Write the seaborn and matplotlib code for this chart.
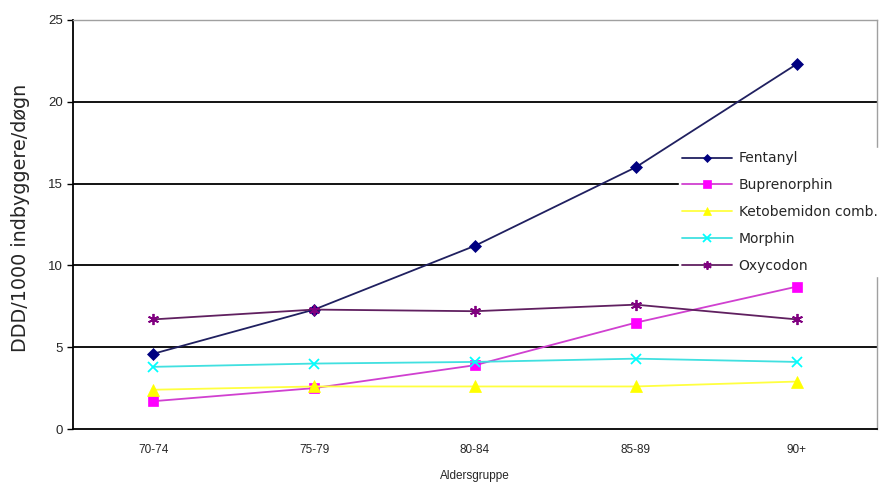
import matplotlib
matplotlib.use("Agg")
import matplotlib.pyplot as plt
import seaborn as sns
import pandas as pd
import numpy as np

categories = ["70-74", "75-79", "80-84", "85-89", "90+"]
fentanyl = [4.6, 7.3, 11.2, 16.0, 22.3]
buprenorphin = [1.7, 2.5, 3.9, 6.5, 8.7]
ketobemidon = [2.4, 2.6, 2.6, 2.6, 2.9]
morphin = [3.8, 4.0, 4.1, 4.3, 4.1]
oxycodon = [6.7, 7.3, 7.2, 7.6, 6.7]
series_names = ["Fentanyl", "Buprenorphin", "Ketobemidon comb.", "Morphin", "Oxycodon"]
yticks = [0, 5, 10, 15, 20, 25]

series_values = [fentanyl, buprenorphin, ketobemidon, morphin, oxycodon]
colors = ["#000080", "#FF00FF", "#FFFF00", "#00FFFF", "#800080"]
line_colors = ["#202060", "#D040D0", "#FFFF40", "#40E0E0", "#602060"]
markers = ["D", "s", "^", "x", (6, 2, 0)]
msizes = [6, 7, 8, 7, 8]

rows = []
for name, vals in zip(series_names, series_values):
    for i, (c, v) in enumerate(zip(categories, vals)):
        rows.append({"Aldersgruppe": i, "cat": c, "value": v, "series": name})
df = pd.DataFrame(rows)

sns.set_style("white")
plt.rcParams['font.family'] = ['Liberation Sans', 'DejaVu Sans']

fig = plt.figure(figsize=(8.83, 4.91), dpi=100)
ax = fig.add_axes([73/883, 1-429/491, (877-73)/883, (429-20)/491])

for name, col, lcol, mk, ms in zip(series_names, colors, line_colors, markers, msizes):
    sub = df[df["series"] == name]
    sns.lineplot(data=sub, x="Aldersgruppe", y="value", ax=ax, color=lcol,
                 marker=mk, markersize=ms, markerfacecolor=col, markeredgecolor=col,
                 markeredgewidth=1.3 if mk in ("x",) or isinstance(mk, tuple) else 0.5,
                 linewidth=1.3, label=name, sort=False, zorder=3)

ax.set_xlim(-0.5, len(categories) - 0.5)
ax.set_ylim(0, 25)
ax.set_yticks(yticks)
ax.set_yticklabels([str(t) for t in yticks], fontsize=9.5)
ax.set_xticks(range(len(categories)))
ax.set_xticklabels(categories, fontsize=8.5)
ax.set_xticks(np.arange(-0.5, len(categories)), minor=True)
ax.tick_params(axis="x", which="major", length=0, pad=11)
ax.tick_params(axis="x", which="minor", length=4, width=1, color="black", direction="out")
ax.tick_params(axis="y", which="major", length=4, width=1, color="black", direction="out", left=True, pad=3)

for t in yticks[1:-1]:
    ax.axhline(t, color="black", linewidth=1.3, zorder=1)

for s in ["left", "bottom"]:
    ax.spines[s].set_color("black")
    ax.spines[s].set_linewidth(1.3)
for s in ["top", "right"]:
    ax.spines[s].set_color("#A0A0A0")
    ax.spines[s].set_linewidth(1.0)

ax.set_xlabel("Aldersgruppe", fontsize=8.5, labelpad=10)
ax.set_ylabel("DDD/1000 indbyggere/døgn", fontsize=13.8, family=["DejaVu Sans"])
ax.yaxis.set_label_coords((30 - 73) / 804, (429 - 218) / 409)

leg = ax.legend(loc="upper left", bbox_to_anchor=(606/804, (429-148)/409), frameon=True,
                prop={"family": ["DejaVu Sans"], "size": 10},
                handlelength=3.6, labelspacing=0.92, borderpad=0.25,
                handletextpad=0.45, fancybox=False, markerscale=0.75, borderaxespad=0)
leg.get_frame().set_edgecolor("white")
leg.get_frame().set_facecolor("white")
leg.get_frame().set_alpha(1)
leg.set_zorder(5)
leg.set_clip_on(False)

fig.savefig("out.png", dpi=100)
